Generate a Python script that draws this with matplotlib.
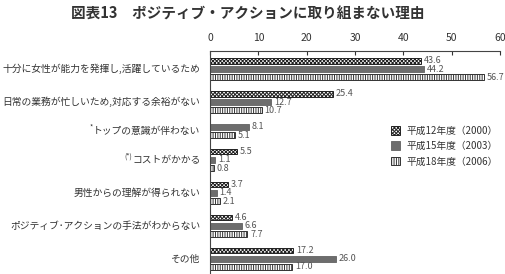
import numpy as np
import matplotlib
matplotlib.use("Agg")
from matplotlib import pyplot as plt
from matplotlib.patches import Patch

plt.rcParams['font.family'] = ['Noto Sans CJK JP', 'DejaVu Sans']
plt.rcParams['hatch.linewidth'] = 0.7

title = "図表13　ポジティブ・アクションに取り組まない理由"
categories = [
    "十分に女性が能力を発揮し,活躍しているため",
    "日常の業務が忙しいため,対応する余裕がない",
    "トップの意識が伴わない",
    "コストがかかる",
    "男性からの理解が得られない",
    "ポジティブ･アクションの手法がわからない",
    "その他",
]
prefixes = ["", "", "*", "(*)", "", "", ""]
series_names = ["平成12年度（2000）", "平成15年度（2003）", "平成18年度（2006）"]
v2000 = [43.6, 25.4, np.nan, 5.5, 3.7, 4.6, 17.2]
v2003 = [44.2, 12.7, 8.1, 1.1, 1.4, 6.6, 26.0]
v2006 = [56.7, 10.7, 5.1, 0.8, 2.1, 7.7, 17.0]
xticks = [0, 10, 20, 30, 40, 50, 60]

styles = [
    dict(facecolor="white", edgecolor="#222222", hatch="xxxxxxxxx"),
    dict(facecolor="#6d6d6d", edgecolor="#6d6d6d"),
    dict(facecolor="white", edgecolor="#333333", hatch="|||||||"),
]

fig = plt.figure(figsize=(5.06, 2.74), dpi=100)
ax = fig.add_axes([210 / 506, 0, 290 / 506, 223 / 274])

# each bar takes one slot, one empty slot between groups
slot = 0
centers = []
for i in range(len(categories)):
    vals = [v2000[i], v2003[i], v2006[i]]
    used = []
    for k, v in enumerate(vals):
        if np.isnan(v):
            continue
        ax.barh(slot, v, height=0.7, linewidth=0.7, **styles[k])
        ax.text(v + 0.6, slot, "%.1f" % v, va="center", ha="left",
                fontsize=6.5, color="#555555")
        used.append(slot)
        slot += 1
    centers.append(np.mean(used))
    slot += 1

ax.set_xlim(0, 60)
ax.set_ylim(25.85, -1.2)
ax.set_xticks(xticks)
ax.xaxis.set_ticks_position("top")
ax.tick_params(axis="x", direction="in", length=3, width=0.8, pad=6,
               labelsize=7.5, colors="#333333")
ax.set_yticks([])
ax.spines["right"].set_visible(False)
ax.spines["bottom"].set_visible(False)
for s in ["top", "left"]:
    ax.spines[s].set_color("#444444")
    ax.spines[s].set_linewidth(0.8)

labels = []
for i, c in enumerate(categories):
    t = ax.annotate(c, xy=(0, centers[i]), xycoords=("axes fraction", "data"),
                    xytext=(-7, 0), textcoords="offset points",
                    ha="right", va="center", fontsize=7.05, color="#333333")
    labels.append(t)

fig.canvas.draw()
r = fig.canvas.get_renderer()
for i, p in enumerate(prefixes):
    if p:
        bb = labels[i].get_window_extent(r)
        fig.text(bb.x0 / 506, (bb.y0 + bb.height * 0.45) / 274, p,
                 ha="right", va="bottom", fontsize=5, color="#333333")

fig.text(248 / 506, 1 - 14 / 274, title, ha="center", va="center",
         fontsize=10.5, fontweight="bold", color="#333333")

handles = [Patch(linewidth=0.7, **s) for s in styles]
fig.legend(handles, series_names, loc="upper left",
           bbox_to_anchor=(382 / 506, 1 - 117 / 274), frameon=False,
           fontsize=7, handlelength=1.0, handleheight=1.0, handletextpad=0.6,
           labelspacing=0.55, labelcolor="#333333")

fig.savefig("out.png", dpi=100)
